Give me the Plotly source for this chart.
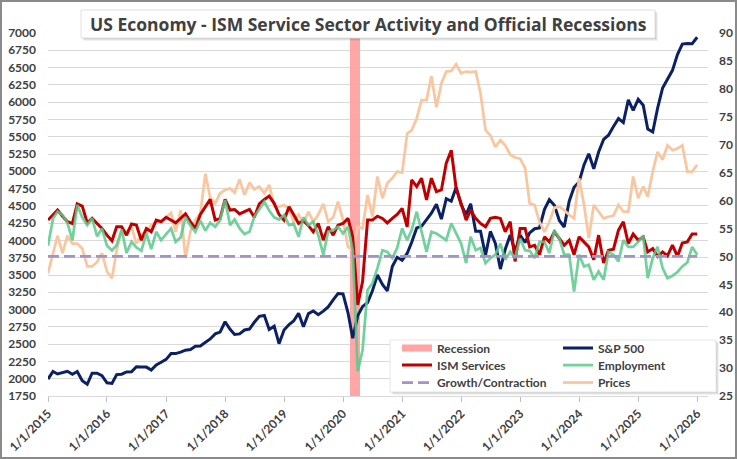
import pandas as pd
import plotly.graph_objects as go

# ---------------- data ----------------
months = pd.date_range("2015-01-01", periods=133, freq="MS")

sp500 = [
    1995, 2105, 2068, 2086, 2107, 2063, 2104, 1972, 1920, 2079, 2080, 2044,
    1940, 1932, 2060, 2065, 2097, 2099, 2174, 2171, 2168, 2126, 2199, 2239,
    2279, 2364, 2363, 2384, 2412, 2423, 2470, 2472, 2519, 2575, 2648, 2674,
    2824, 2714, 2641, 2648, 2705, 2718, 2816, 2902, 2914, 2712, 2760, 2507,
    2704, 2784, 2834, 2946, 2752, 2942, 2980, 2926, 2977, 3038, 3141, 3231,
    3226, 2954, 2585, 2912, 3044, 3100, 3271, 3500, 3363, 3270, 3622, 3756,
    3714, 3811, 3973, 4181, 4204, 4298, 4395, 4523, 4308, 4605, 4567, 4766,
    4516, 4374, 4530, 4132, 4132, 3785, 4130, 3955, 3586, 3872, 4080, 3840,
    4077, 3970, 4109, 4169, 4180, 4450, 4589, 4508, 4288, 4194, 4568, 4770,
    4846, 5096, 5254, 5036, 5278, 5460, 5522, 5648, 5762, 5705, 6032, 5882,
    6041, 5955, 5612, 5569, 5912, 6205, 6339, 6460, 6688, 6840, 6849, 6845,
    6939,
]

ism_services = [
    56.5, 57.5, 58.3, 57.2, 56.2, 55.9, 59.4, 59.0, 56.0, 56.8, 55.9, 55.0,
    53.8, 52.8, 55.3, 55.3, 53.8, 55.8, 55.6, 52.9, 55.0, 54.4, 56.5, 56.2,
    57.0, 56.5, 56.0, 56.8, 57.6, 56.2, 55.0, 57.5, 59.0, 60.2, 56.5, 56.8,
    60.2, 58.3, 58.4, 57.6, 58.0, 58.4, 57.0, 59.4, 60.2, 60.8, 59.5, 57.5,
    56.5, 58.9, 57.5, 55.9, 56.4, 55.5, 54.4, 55.9, 52.9, 55.3, 53.8, 55.6,
    55.9, 56.8, 53.5, 41.3, 45.5, 56.5, 56.5, 57.2, 56.8, 56.0, 56.8, 57.5,
    58.6, 55.3, 63.7, 62.5, 64.0, 60.1, 64.0, 61.6, 61.9, 66.7, 69.0, 62.2,
    59.5, 56.5, 58.3, 56.8, 55.9, 55.3, 56.8, 57.0, 56.8, 54.4, 56.2, 49.1,
    55.0, 55.0, 51.7, 52.0, 50.3, 53.5, 52.6, 54.4, 53.2, 52.0, 52.9, 50.3,
    53.5, 52.6, 51.7, 49.4, 53.8, 48.8, 51.1, 51.3, 54.7, 56.2, 52.3, 54.0,
    52.9, 53.5, 50.8, 51.4, 50.0, 50.8, 50.1, 52.0, 50.0, 52.4, 52.6, 54.0,
    54.0,
]

employment = [
    51.9, 56.8, 58.0, 57.4, 56.0, 52.9, 59.2, 57.0, 55.6, 56.8, 53.6, 55.0,
    51.9, 51.1, 52.0, 54.8, 50.6, 52.6, 51.6, 51.0, 54.1, 51.3, 54.4, 52.9,
    54.0, 55.0, 52.6, 53.4, 57.0, 55.5, 54.4, 56.4, 54.6, 56.0, 55.3, 56.5,
    60.1, 55.6, 56.6, 55.0, 54.0, 54.4, 57.1, 58.5, 59.8, 58.2, 57.0, 56.6,
    57.4, 55.6, 55.9, 53.5, 57.0, 55.6, 56.2, 53.8, 50.3, 54.4, 54.7, 55.3,
    54.1, 55.3, 51.1, 29.4, 33.2, 44.0, 45.2, 47.9, 51.1, 50.8, 49.7, 51.5,
    55.0, 52.9, 54.7, 58.0, 54.7, 50.8, 54.4, 54.1, 53.5, 52.9, 55.9, 54.1,
    52.3, 48.8, 53.5, 51.1, 51.5, 48.8, 49.7, 50.3, 52.3, 49.4, 50.8, 49.7,
    53.2, 51.1, 51.0, 49.7, 52.6, 52.6, 50.6, 54.7, 53.2, 50.3, 50.3, 43.7,
    50.3, 48.2, 48.5, 45.8, 47.3, 45.8, 50.8, 50.3, 49.1, 52.9, 51.7, 51.7,
    52.6, 53.7, 46.1, 49.7, 51.7, 47.9, 46.1, 46.5, 47.2, 48.2, 48.9, 51.7,
    50.3,
]

prices = [
    47.0, 50.5, 53.7, 50.6, 53.7, 52.3, 52.3, 51.4, 48.2, 48.2, 49.0, 50.6,
    47.3, 46.1, 51.1, 54.7, 54.4, 55.3, 52.3, 53.9, 54.4, 55.6, 56.2, 56.4,
    57.0, 57.8, 54.4, 58.3, 49.7, 54.5, 56.5, 57.7, 64.8, 60.5, 59.5, 61.3,
    61.9, 62.2, 61.4, 63.8, 61.0, 63.2, 62.0, 62.5, 61.3, 62.8, 59.0, 58.9,
    59.2, 58.5, 56.2, 57.5, 55.9, 58.0, 56.2, 57.5, 59.4, 56.2, 57.0, 59.8,
    56.5, 51.7, 51.1, 55.3, 55.0, 61.0, 57.1, 64.3, 60.4, 63.1, 64.0, 65.2,
    65.0, 72.0, 72.6, 74.7, 78.0, 78.0, 82.3, 76.7, 81.0, 83.1, 83.2, 84.4,
    82.8, 83.1, 83.0, 83.1, 79.2, 72.6, 71.7, 69.6, 70.8, 69.9, 68.2, 67.7,
    67.5, 65.8, 59.5, 59.2, 56.2, 54.4, 56.2, 58.7, 58.9, 58.3, 57.4, 56.8,
    64.0, 59.2, 53.3, 59.2, 58.0, 56.8, 57.1, 57.3, 59.2, 58.0, 58.0, 64.3,
    60.4, 62.5, 60.7, 65.2, 68.7, 67.3, 69.9, 69.0, 69.3, 69.9, 65.2, 65.2,
    66.4,
]

recession_months = ["2020-03-01", "2020-04-01"]
recession_flag = [1, 1]
growth_threshold = 50

series_names = ["Recession", "S&P 500", "ISM Services", "Employment",
                "Growth/Contraction", "Prices"]
title_text = "US Economy - ISM Service Sector Activity and Official Recessions"

# ---------------- styling ----------------
W, H = 737, 459
ML, MR, MT, MB = 48, 29, 33, 63
PW, PH = W - ML - MR, H - MT - MB

def px_x(px):
    return (px - ML) / PW

def px_y(py):
    return (MT + PH - py) / PH

FONT = "Lato"
TXT = "#404040"
C_REC = "#ffa3a3"
C_SP = "#0b2163"
C_ISM = "#c00000"
C_EMP = "#5ac98c"
C_DASH = "#a393c6"
C_PRC = "#f9c6a0"

fig = go.Figure()

# recession bars on hidden primary axis
fig.add_trace(go.Bar(
    x=recession_months, y=recession_flag, yaxis="y", xaxis="x",
    width=[33 * 86400000] * len(recession_months),
    marker=dict(color=C_REC, line=dict(width=0)), opacity=0.95,
    showlegend=False, hoverinfo="skip",
))

fig.add_trace(go.Scatter(
    x=months, y=sp500, yaxis="y2", mode="lines", name=series_names[1],
    line=dict(color=C_SP, width=3), legend="legend2",
))
fig.add_trace(go.Scatter(
    x=months, y=prices, yaxis="y3", mode="lines", name=series_names[5],
    line=dict(color=C_PRC, width=2.75), legend="legend6",
))
fig.add_trace(go.Scatter(
    x=months, y=ism_services, yaxis="y3", mode="lines", name=series_names[2],
    line=dict(color=C_ISM, width=3), legend="legend3",
))
fig.add_trace(go.Scatter(
    x=months, y=employment, yaxis="y3", mode="lines", name=series_names[3],
    line=dict(color=C_EMP, width=2.75), opacity=0.85, legend="legend4",
))
fig.add_trace(go.Scatter(
    x=[months[0], months[-1]], y=[growth_threshold, growth_threshold], yaxis="y3",
    mode="lines", name=series_names[4],
    line=dict(color=C_DASH, width=2.75, dash="11px,5px"), legend="legend5",
))
# legend entry for recession (thick band symbol)
fig.add_trace(go.Scatter(
    x=[None], y=[None], yaxis="y3", mode="lines", name=series_names[0],
    line=dict(color=C_REC, width=7), legend="legend",
))

tickfont = dict(family=FONT, size=12, color=TXT, weight="bold")
legfont = dict(family=FONT, size=12, color=TXT, weight="bold")

col_x = [px_x(397), px_x(558)]
row_c = [348, 365, 382.5]
row_y = [px_y(c - 14.5) for c in row_c]

def leg(ix, iy):
    return dict(x=col_x[ix], y=row_y[iy], xanchor="left", yanchor="top",
                bgcolor="rgba(0,0,0,0)", borderwidth=0, font=legfont,
                itemwidth=30, orientation="v")

shapes = []
# legend box with shadow
for k, a in [(3, 0.05), (2, 0.07), (1, 0.09)]:
    shapes.append(dict(type="rect", xref="paper", yref="paper", layer="above",
                       x0=px_x(390 + k), x1=px_x(716 + k), y0=px_y(340 + k), y1=px_y(392 + k),
                       fillcolor=f"rgba(0,0,0,{a})", line=dict(width=0)))
shapes.append(dict(type="rect", xref="paper", yref="paper", layer="above",
                   x0=px_x(390), x1=px_x(716), y0=px_y(340), y1=px_y(392),
                   fillcolor="white", line=dict(width=1, color="#e6e6e6")))
# title box with shadow
for k, a in [(3, 0.05), (2, 0.07), (1, 0.09)]:
    shapes.append(dict(type="rect", xref="paper", yref="paper", layer="above",
                       x0=px_x(81 + k), x1=px_x(655 + k), y0=px_y(10 + k), y1=px_y(38 + k),
                       fillcolor=f"rgba(0,0,0,{a})", line=dict(width=0)))
shapes.append(dict(type="rect", xref="paper", yref="paper", layer="above",
                   x0=px_x(81), x1=px_x(655), y0=px_y(10), y1=px_y(38),
                   fillcolor="white", line=dict(width=1, color="#e0e0e0")))
# outer chart border
shapes.append(dict(type="rect", xref="paper", yref="paper", layer="above",
                   x0=px_x(1), x1=px_x(736), y0=px_y(1), y1=px_y(458),
                   fillcolor="rgba(0,0,0,0)", line=dict(width=2, color="#8a8a8a")))

fig.update_layout(
    width=W, height=H,
    margin=dict(l=ML, r=MR, t=MT, b=MB, pad=0, autoexpand=False),
    paper_bgcolor="white", plot_bgcolor="white",
    font=dict(family=FONT, color=TXT),
    bargap=0,
    showlegend=True,
    xaxis=dict(
        type="date", range=["2015-01-01", "2026-03-09"],
        tick0="2015-01-01", dtick="M12", tickformat="%-m/%-d/%Y",
        tickangle=-45, ticks="outside", ticklen=5, tickcolor="#bfbfbf",
        showline=True, linecolor="#d9d9d9", linewidth=1, automargin=False,
        showgrid=False, zeroline=False, tickfont=tickfont,
    ),
    yaxis=dict(range=[0, 1], visible=False, fixedrange=True, automargin=False),
    yaxis2=dict(
        overlaying="y", side="left", range=[1750, 7000], tick0=1750, dtick=250,
        showgrid=True, gridcolor="#d9d9d9", gridwidth=1, zeroline=False,
        showline=False, ticks="", tickfont=tickfont, ticklabelstandoff=11,
        automargin=False,
    ),
    yaxis3=dict(
        overlaying="y", side="right", range=[25, 90], tick0=25, dtick=5,
        showgrid=False, zeroline=False, showline=False, ticks="",
        tickfont=tickfont, ticklabelstandoff=10, automargin=False,
    ),
    legend=leg(0, 0), legend2=leg(1, 0),
    legend3=leg(0, 1), legend4=leg(1, 1),
    legend5=leg(0, 2), legend6=leg(1, 2),
    shapes=shapes,
    annotations=[dict(
        text=title_text, xref="paper", yref="paper",
        x=px_x(368), y=px_y(24), xanchor="center", yanchor="middle",
        showarrow=False,
        font=dict(family="Open Sans", size=17.5, color=TXT, weight="bold"),
    )],
)

fig.write_html(
    "out.html",
    config={"displayModeBar": False},
    post_script="document.body.style.margin='0';document.body.style.overflow='hidden';",
)
